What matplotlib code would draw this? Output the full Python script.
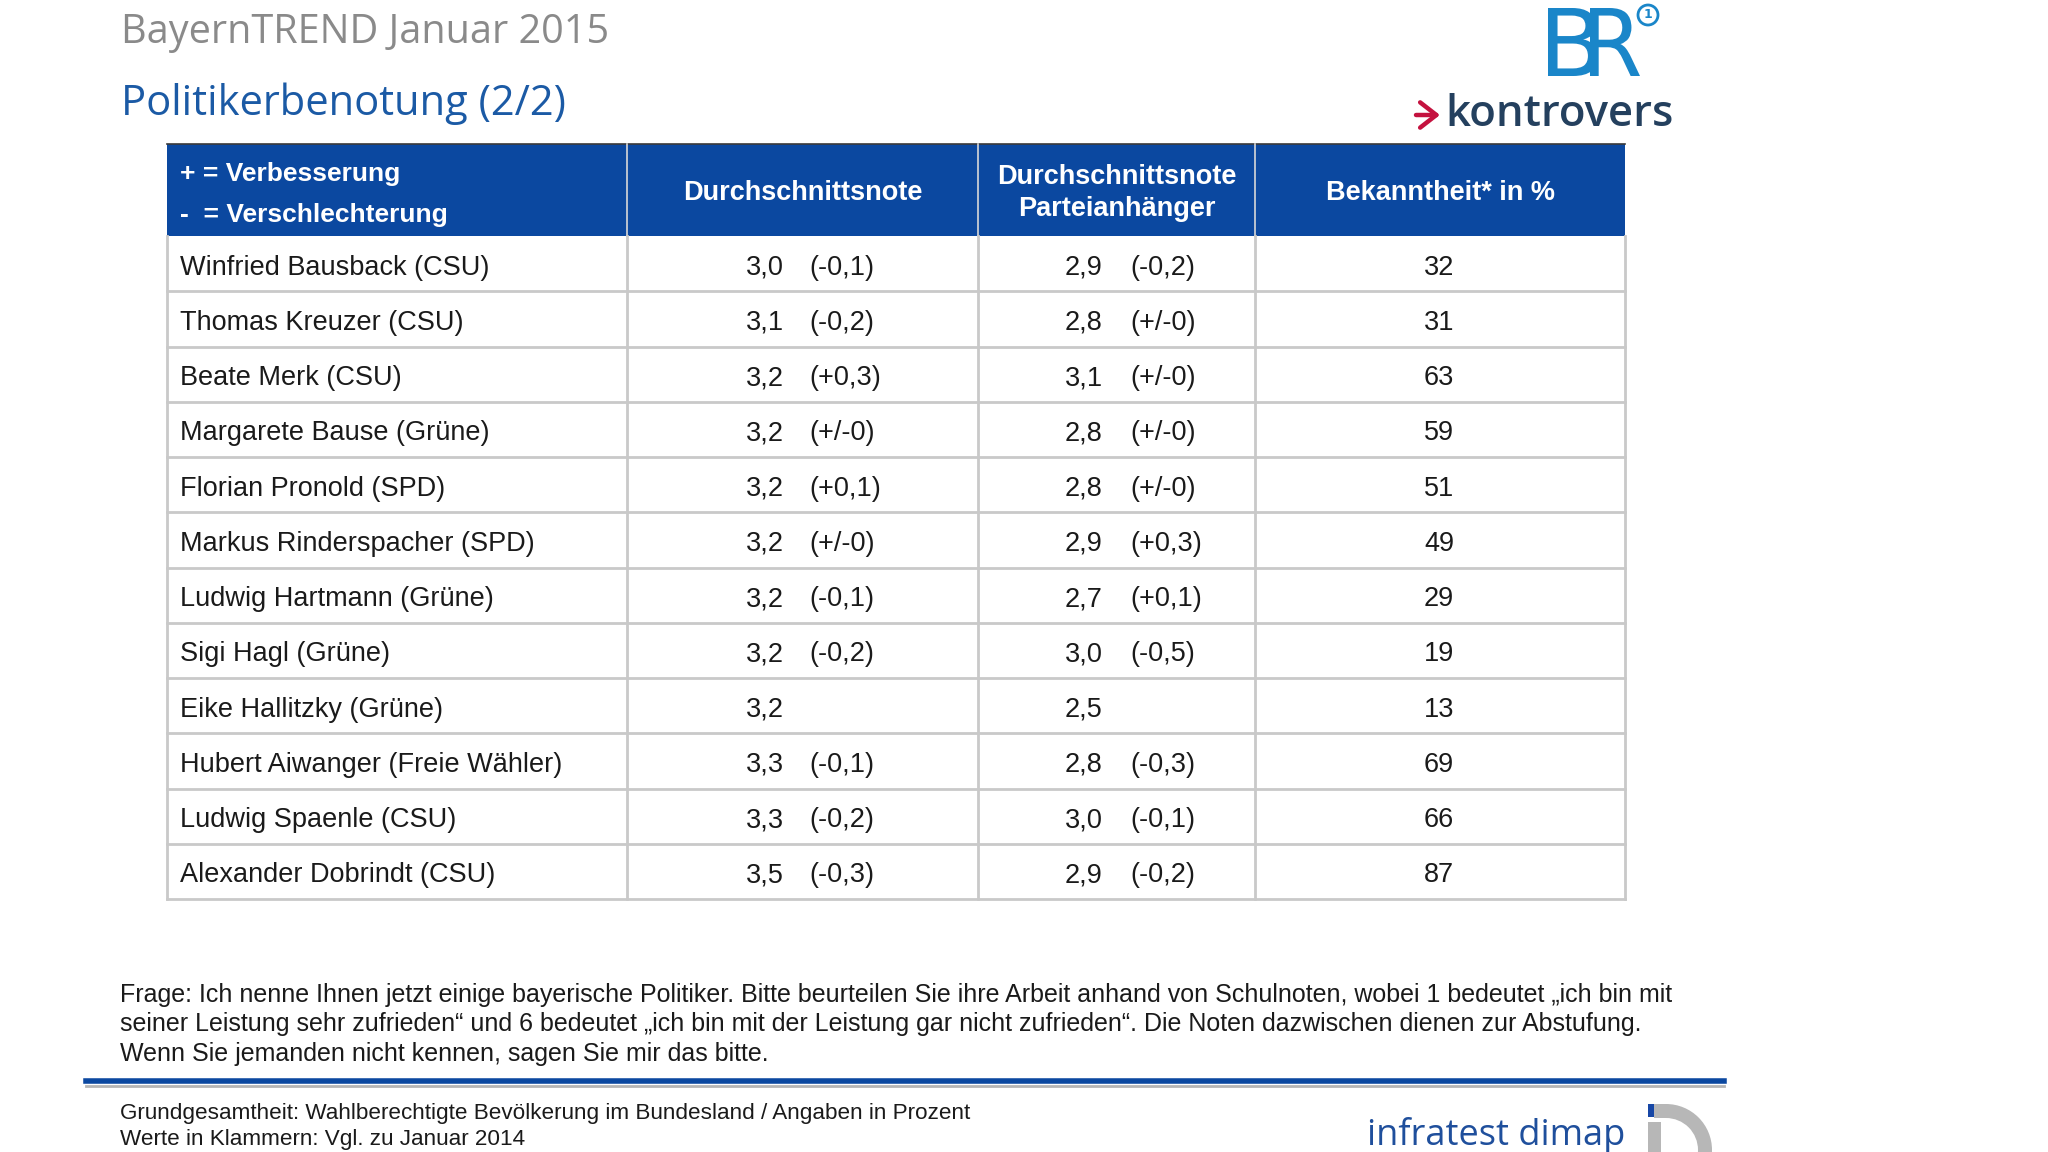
import matplotlib
matplotlib.use("Agg")
import matplotlib.pyplot as plt
from matplotlib.patches import Rectangle, Wedge, Circle, PathPatch, FancyArrowPatch
from matplotlib.textpath import TextPath
from matplotlib.font_manager import FontProperties
from matplotlib.transforms import Affine2D


TITLE = "BayernTREND Januar 2015"
SUBTITLE = "Politikerbenotung (2/2)"

HEADER_LEGEND = ["+ = Verbesserung", "-  = Verschlechterung"]
HEADERS = ["Durchschnittsnote", "Durchschnittsnote\nParteianhänger", "Bekanntheit* in %"]

NAMES = [
    "Winfried Bausback (CSU)",
    "Thomas Kreuzer (CSU)",
    "Beate Merk (CSU)",
    "Margarete Bause (Grüne)",
    "Florian Pronold (SPD)",
    "Markus Rinderspacher (SPD)",
    "Ludwig Hartmann (Grüne)",
    "Sigi Hagl (Grüne)",
    "Eike Hallitzky (Grüne)",
    "Hubert Aiwanger (Freie Wähler)",
    "Ludwig Spaenle (CSU)",
    "Alexander Dobrindt (CSU)",
]
GRADE = [3.0, 3.1, 3.2, 3.2, 3.2, 3.2, 3.2, 3.2, 3.2, 3.3, 3.3, 3.5]
GRADE_DELTA = [-0.1, -0.2, 0.3, 0.0, 0.1, 0.0, -0.1, -0.2, None, -0.1, -0.2, -0.3]
PARTY_GRADE = [2.9, 2.8, 3.1, 2.8, 2.8, 2.9, 2.7, 3.0, 2.5, 2.8, 3.0, 2.9]
PARTY_DELTA = [-0.2, 0.0, 0.0, 0.0, 0.0, 0.3, 0.1, -0.5, None, -0.3, -0.1, -0.2]
AWARENESS = [32, 31, 63, 59, 51, 49, 29, 19, 13, 69, 66, 87]

QUESTION = [
    "Frage: Ich nenne Ihnen jetzt einige bayerische Politiker. Bitte beurteilen Sie ihre Arbeit anhand von Schulnoten, wobei 1 bedeutet „ich bin mit",
    "seiner Leistung sehr zufrieden“ und 6 bedeutet „ich bin mit der Leistung gar nicht zufrieden“. Die Noten dazwischen dienen zur Abstufung.",
    "Wenn Sie jemanden nicht kennen, sagen Sie mir das bitte.",
]
FOOTER = [
    "Grundgesamtheit: Wahlberechtigte Bevölkerung im Bundesland / Angaben in Prozent",
    "Werte in Klammern: Vgl. zu Januar 2014",
]

HEADER_BLUE = "#0b48a0"
GRID = "#c9c9c9"
TEXT = "#1a1a1a"
TABLE_FONT = "Liberation Sans"


def fmt_num(v):
    return f"{v:.1f}".replace(".", ",")


def fmt_delta(v):
    if v is None:
        return ""
    if v == 0:
        return "(+/-0)"
    sign = "+" if v > 0 else "-"
    return f"({sign}{abs(v):.1f})".replace(".", ",")


def glyph(ax, s, x, y, height, width, color, family="DejaVu Sans", weight="bold"):
    # text drawn as a path so it can be squeezed to fit the logo box
    tp = TextPath((0, 0), s, size=100, prop=FontProperties(family=family, weight=weight))
    ext = tp.get_extents()
    sx = width / ext.width
    sy = height / ext.height
    tr = Affine2D().translate(-ext.x0, -ext.y0).scale(sx, -sy).translate(x, y + height)
    ax.add_patch(PathPatch(tr.transform_path(tp), color=color, lw=0))


fig = plt.figure(figsize=(20.48, 11.52), dpi=100)
ax = fig.add_axes([0, 0, 1, 1])
ax.set_xlim(0, 2048)
ax.set_ylim(1152, 0)
ax.axis("off")

# titles
ax.text(121, 33, TITLE, fontsize=28.5, color="#8a8a8a", family="Open Sans", va="center", ha="left")
ax.text(121, 104, SUBTITLE, fontsize=30, color="#1b5aa5", family="Open Sans", va="center", ha="left")

# BR / kontrovers logo
glyph(ax, "B", 1548, 8, 68, 50, "#1a86c9", weight="normal")
glyph(ax, "R", 1590, 8, 68, 50, "#1a86c9", weight="normal")
ax.add_patch(Circle((1648, 15), 10, fill=False, ec="#1a86c9", lw=2))
ax.text(1648, 15, "1", fontsize=9, color="#1a86c9", weight="bold", ha="center", va="center")
ax.add_patch(FancyArrowPatch((1416, 115), (1440, 115), arrowstyle="->,head_length=0.45,head_width=0.35",
                             mutation_scale=26, color="#c4123f", lw=3.2, shrinkA=0, shrinkB=0))
ax.text(1445, 115, "kontrovers", fontsize=31.5, color="#24405e", weight="semibold",
        family="Open Sans", ha="left", va="center")

# table geometry
col_edges = [167, 627, 978, 1255, 1625]
head_top, head_bot = 144, 236
row_h = (899 - head_bot) / len(NAMES)

ax.add_patch(Rectangle((col_edges[0], head_top), col_edges[-1] - col_edges[0], head_bot - head_top,
                       color=HEADER_BLUE, lw=0, zorder=1))
ax.plot([col_edges[0], col_edges[-1]], [head_top, head_top], color="#3a3a3a", lw=1.2, zorder=2)
for x in col_edges[1:-1]:
    ax.plot([x, x], [head_top, head_bot], color="#d8d8d8", lw=1.2, zorder=2)

ax.text(180, 174, HEADER_LEGEND[0], fontsize=19, color="white", weight="bold",
        family=TABLE_FONT, ha="left", va="center")
ax.text(180, 215, HEADER_LEGEND[1], fontsize=19, color="white", weight="bold",
        family=TABLE_FONT, ha="left", va="center")
for i, h in enumerate(HEADERS):
    cx = (col_edges[i + 1] + col_edges[i + 2]) / 2
    ax.text(cx, 193, h, fontsize=19.5, color="white", weight="bold", family=TABLE_FONT,
            ha="center", va="center", linespacing=1.3)

# body grid
table_bot = head_bot + row_h * len(NAMES)
for i in range(len(NAMES)):
    yb = head_bot + row_h * (i + 1)
    ax.plot([col_edges[0], col_edges[-1]], [yb, yb], color=GRID, lw=2, zorder=2)
for x in col_edges:
    ax.plot([x, x], [head_bot, table_bot], color=GRID, lw=2, zorder=2)

# body text
fs = 19.5
for i, name in enumerate(NAMES):
    yc = head_bot + row_h * (i + 0.5) + 4
    ax.text(180, yc, name, fontsize=fs, color=TEXT, family=TABLE_FONT, ha="left", va="center")
    ax.text(765, yc, fmt_num(GRADE[i]), fontsize=fs, color=TEXT, family=TABLE_FONT,
            ha="center", va="center")
    ax.text(809, yc, fmt_delta(GRADE_DELTA[i]), fontsize=fs, color=TEXT, family=TABLE_FONT,
            ha="left", va="center")
    ax.text(1084, yc, fmt_num(PARTY_GRADE[i]), fontsize=fs, color=TEXT, family=TABLE_FONT,
            ha="center", va="center")
    ax.text(1130, yc, fmt_delta(PARTY_DELTA[i]), fontsize=fs, color=TEXT, family=TABLE_FONT,
            ha="left", va="center")
    ax.text(1439, yc, str(AWARENESS[i]), fontsize=fs, color=TEXT, family=TABLE_FONT,
            ha="center", va="center")

# question text
for i, line in enumerate(QUESTION):
    ax.text(120, 995 + 29.5 * i, line, fontsize=18, color=TEXT, family=TABLE_FONT,
            ha="left", va="center")

# footer rule
ax.plot([86, 1724], [1086, 1086], color="#b5b5b5", lw=2)
ax.plot([86, 1724], [1081, 1081], color=HEADER_BLUE, lw=4)

for i, line in enumerate(FOOTER):
    ax.text(120, 1114 + 25 * i, line, fontsize=16.2, color=TEXT, family=TABLE_FONT,
            ha="left", va="center")

# infratest dimap logo
ax.text(1367, 1136, "infratest dimap", fontsize=26, color="#1f4f9c", family="Open Sans",
        ha="left", va="center")
ax.add_patch(Rectangle((1648, 1104), 13, 13, color="#1747a6", lw=0))
ax.add_patch(Rectangle((1648, 1122), 13, 40, color="#b7b7b7", lw=0))
ax.add_patch(Wedge((1666, 1150), 46, -90, 90, width=14, color="#b7b7b7", lw=0))
ax.add_patch(Rectangle((1654, 1104), 12, 14, color="#b7b7b7", lw=0))

fig.savefig("out.png", dpi=100)
